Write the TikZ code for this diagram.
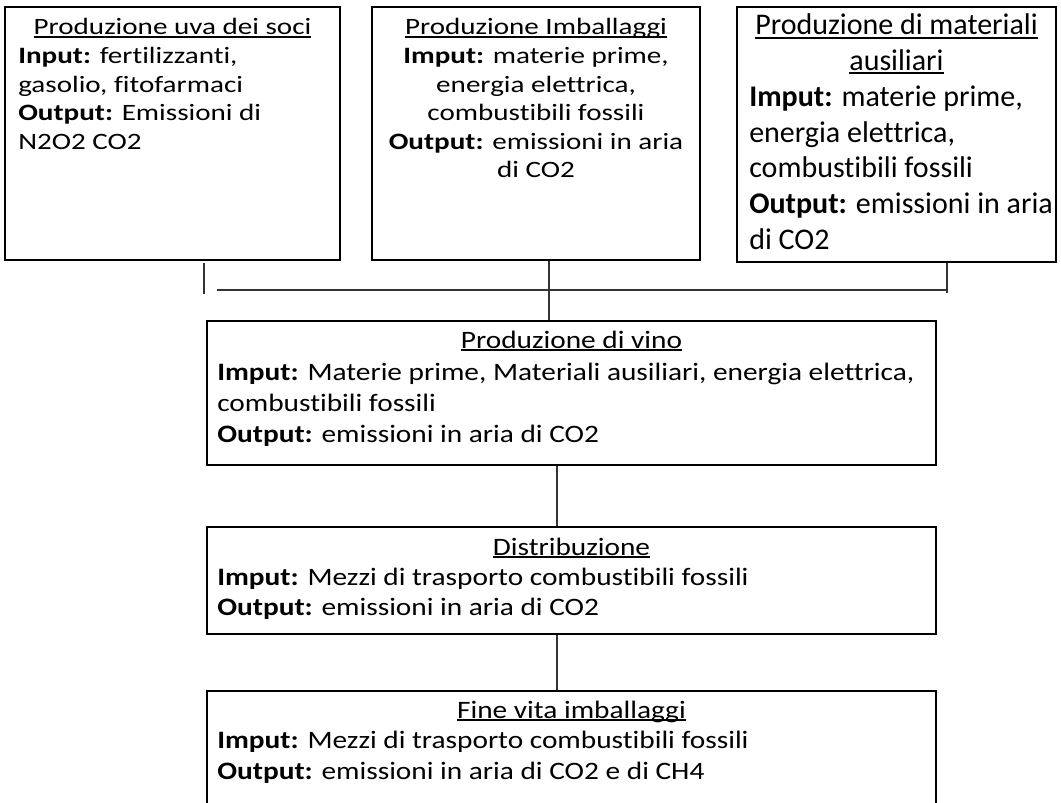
\documentclass[tikz,border=0pt]{standalone}
\usepackage{fontspec}
\setmainfont{Carlito}[Ligatures={NoCommon,NoContextual}]
\newfontfamily\fonttop{Carlito}[FakeStretch=1.24,Ligatures={NoCommon,NoContextual}]
\newfontfamily\fontaux{Carlito}[Ligatures={NoCommon,NoContextual}]
\newfontfamily\fontlow{Carlito}[FakeStretch=1.17,Ligatures={NoCommon,NoContextual}]
\usetikzlibrary{fit}
\newcommand{\myul}[1]{\setbox0=\hbox{#1}\rlap{\rule[-0.12em]{\wd0}{0.065em}}\box0}
\begin{document}
\begin{tikzpicture}[x=0.75pt,y=-0.75pt,
  box/.style={draw=black, line width=1.5pt, inner sep=0pt},
  conn/.style={draw=black!80, line width=0.9pt},
  ta/.style={font=\fonttop\fontsize{17.6}{21}\selectfont, inner sep=0pt, anchor=base west},
  tac/.style={ta, anchor=base},
  tb/.style={font=\fontaux\fontsize{22.5}{27}\selectfont, inner sep=0pt, anchor=base west},
  tbc/.style={tb, anchor=base},
  tc/.style={font=\fontlow\fontsize{18.8}{23}\selectfont, inner sep=0pt, anchor=base west},
  tcc/.style={tc, anchor=base}]
\clip (0,0) rectangle (1061,803);
\fill[white] (0,0) rectangle (1061,803);
% boxes
\node[box, fit={(5,7) (340,260)}] (b1) {};
\node[box, fit={(372,7) (700,260)}] (b2) {};
\node[box, fit={(737,7) (1056,262)}] (b3) {};
\node[box, fit={(207,321) (936,465)}] (b4) {};
\node[box, fit={(207,527) (936,634)}] (b5) {};
\node[box, fit={(207,691) (936,812)}] (b6) {};
% box 1
\node[tac] (t1a) at (172.5,35) {\myul{Produzione uva dei soci}};
\node[ta] (t1b) at (18,63.5) {\textbf{Input:} fertilizzanti,};
\node[ta] (t1c) at (18,92) {gasolio, fitofarmaci};
\node[ta] (t1d) at (18,120.5) {\textbf{Output:} Emissioni di};
\node[ta] (t1e) at (18,149) {N2O2 CO2};
% box 2
\node[tac] (t2a) at (536,35) {\myul{Produzione Imballaggi}};
\node[tac] (t2b) at (536,63.5) {\textbf{Imput:} materie prime,};
\node[tac] (t2c) at (536,92) {energia elettrica,};
\node[tac] (t2d) at (536,120.5) {combustibili fossili};
\node[tac] (t2e) at (536,149) {\textbf{Output:} emissioni in aria};
\node[tac] (t2f) at (536,177.5) {di CO2};
% box 3
\node[tbc] (t3a) at (896.5,35) {\myul{Produzione di materiali}};
\node[tbc] (t3b) at (896.5,70.7) {\myul{ausiliari}};
\node[tb] (t3c) at (749,106.4) {\textbf{Imput:} materie prime,};
\node[tb] (t3d) at (749,142.1) {energia elettrica,};
\node[tb] (t3e) at (749,177.8) {combustibili fossili};
\node[tb] (t3f) at (749,213.5) {\textbf{Output:} emissioni in aria};
\node[tb] (t3g) at (749,249.2) {di CO2};
% box 4
\node[tcc] (t4a) at (571.5,348) {\myul{Produzione di vino}};
\node[tc] (t4b) at (217,380) {\textbf{Imput:} Materie prime, Materiali ausiliari, energia elettrica,};
\node[tc] (t4c) at (217,411) {combustibili fossili};
\node[tc] (t4d) at (217,442) {\textbf{Output:} emissioni in aria di CO2};
% box 5
\node[tcc] (t5a) at (571.5,555) {\myul{Distribuzione}};
\node[tc] (t5b) at (217,585.5) {\textbf{Imput:} Mezzi di trasporto combustibili fossili};
\node[tc] (t5c) at (217,615) {\textbf{Output:} emissioni in aria di CO2};
% box 6
\node[tcc] (t6a) at (571.5,718) {\myul{Fine vita imballaggi}};
\node[tc] (t6b) at (217,748) {\textbf{Imput:} Mezzi di trasporto combustibili fossili};
\node[tc] (t6c) at (217,779) {\textbf{Output:} emissioni in aria di CO2 e di CH4};
% connectors
\coordinate (lt1) at (204,263);
\coordinate (lt2) at (204,294);
\coordinate (h1) at (217,290);
\coordinate (h2) at (947,290);
\coordinate (rt1) at (947,263);
\coordinate (rt2) at (947,293);
\coordinate (mx) at (549,0);
\coordinate (lx) at (557,0);
\draw[conn] (lt1) -- (lt2);
\draw[conn] (h1) -- (h2);
\draw[conn] (rt1) -- (rt2);
\draw[conn] (b2.south -| mx) -- (b4.north -| mx);
\draw[conn] (b4.south -| lx) -- (b5.north -| lx);
\draw[conn] (b5.south -| lx) -- (b6.north -| lx);
\end{tikzpicture}
\end{document}
